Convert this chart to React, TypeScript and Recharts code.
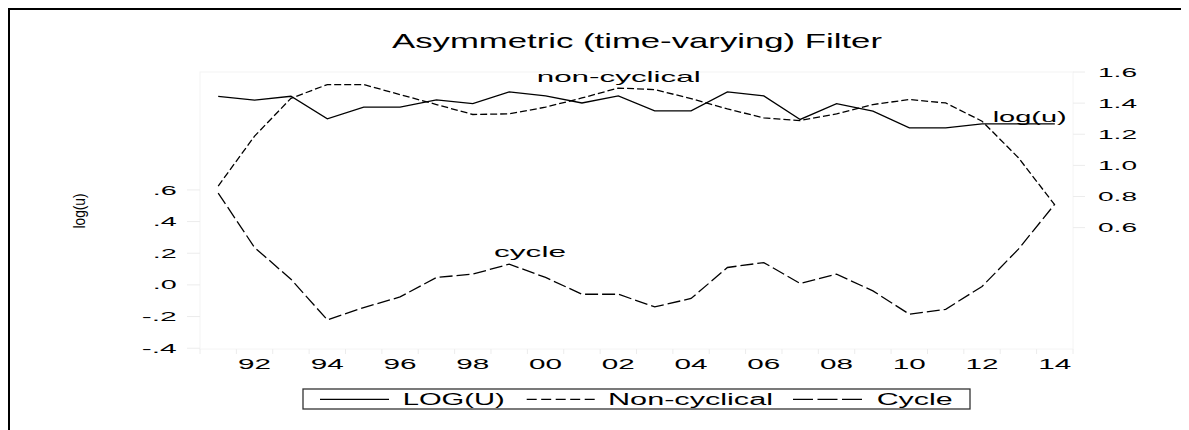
import React from "react";
import { LineChart, Line, XAxis, YAxis, Customized } from "recharts";

// yearly values
const years = [
  "1991", "1992", "1993", "1994", "1995", "1996", "1997", "1998",
  "1999", "2000", "2001", "2002", "2003", "2004", "2005", "2006",
  "2007", "2008", "2009", "2010", "2011", "2012", "2013", "2014",
];
const logU = [
  1.444, 1.419, 1.444, 1.299, 1.374, 1.374, 1.421, 1.397,
  1.472, 1.446, 1.401, 1.446, 1.35, 1.35, 1.472, 1.446,
  1.295, 1.397, 1.348, 1.241, 1.241, 1.267, 1.267, 1.267,
];
const nonCyclical = [
  0.867, 1.188, 1.431, 1.519, 1.519, 1.455, 1.391, 1.327,
  1.331, 1.374, 1.433, 1.497, 1.487, 1.429, 1.363, 1.305,
  1.288, 1.331, 1.391, 1.423, 1.401, 1.284, 1.049, 0.746,
];
const cycle = [
  0.58, 0.236, 0.036, -0.221, -0.143, -0.076, 0.047, 0.068,
  0.131, 0.047, -0.059, -0.059, -0.139, -0.086, 0.11, 0.141,
  0.009, 0.068, -0.038, -0.185, -0.154, -0.01, 0.226, 0.51,
];
const leftTicks = [-0.4, -0.2, 0, 0.2, 0.4, 0.6];
const rightTicks = [0.6, 0.8, 1.0, 1.2, 1.4, 1.6];

const data = years.map((year, i) => ({
  year,
  logU: logU[i],
  nonCyclical: nonCyclical[i],
  cycle: cycle[i],
}));

const W = 1181;
const H = 422;
const PLOT_L = 192;
const PLOT_R = 1065;
const PLOT_T = 64;
const PLOT_B = 341;
const PAD = 18.2;
const FONT = "'Liberation Sans', Arial, sans-serif";
const FAINT = "#ececec";

const fmtLeft = (v: number) => {
  if (Math.abs(v) < 1e-9) return ".0";
  return (v < 0 ? "-" : "") + Math.abs(v).toFixed(1).replace(/^0/, "");
};

function LeftTick(props: any) {
  const { y, payload } = props;
  const label = fmtLeft(payload.value);
  return (
    <g>
      <line x1={179} x2={PLOT_L} y1={y} y2={y} stroke={FAINT} />
      <text
        x={168.7}
        y={y + 4.6}
        textAnchor="end"
        fontSize={13}
        fontFamily={FONT}
        fill="#000"
        textLength={label.startsWith("-") ? 35 : 24}
        lengthAdjust="spacingAndGlyphs"
      >
        {label}
      </text>
    </g>
  );
}

function RightTick(props: any) {
  const { y, payload } = props;
  return (
    <g>
      <line x1={PLOT_R} x2={1077} y1={y} y2={y} stroke={FAINT} />
      <text
        x={1090}
        y={y + 4.6}
        fontSize={13}
        fontFamily={FONT}
        fill="#000"
        textLength={39}
        lengthAdjust="spacingAndGlyphs"
      >
        {Number(payload.value).toFixed(1)}
      </text>
    </g>
  );
}

function YearTick(props: any) {
  const { x, payload, index } = props;
  const yr = Number(payload.value);
  return (
    <g>
      <line x1={x - PAD} x2={x - PAD} y1={PLOT_B} y2={PLOT_B + 5} stroke={FAINT} />
      {index === years.length - 1 && (
        <line x1={x + PAD} x2={x + PAD} y1={PLOT_B} y2={PLOT_B + 5} stroke={FAINT} />
      )}
      {yr % 2 === 0 && (
        <text
          x={x}
          y={361}
          textAnchor="middle"
          fontSize={14}
          fontFamily={FONT}
          fill="#000"
          textLength={33}
          lengthAdjust="spacingAndGlyphs"
        >
          {String(payload.value).slice(2)}
        </text>
      )}
    </g>
  );
}

function Txt({ x, y, w, size, children }: any) {
  return (
    <text
      x={x}
      y={y}
      fontSize={size}
      fontFamily={FONT}
      fill="#000"
      textLength={w}
      lengthAdjust="spacingAndGlyphs"
    >
      {children}
    </text>
  );
}

function Overlay() {
  return (
    <g>
      {/* outer frame (left and top only) */}
      <path d={`M1,${H} V1 H${W}`} fill="none" stroke="#000" strokeWidth={2} />
      {/* very faint plot frame */}
      <rect
        x={PLOT_L}
        y={PLOT_T}
        width={PLOT_R - PLOT_L}
        height={PLOT_B - PLOT_T}
        fill="none"
        stroke="#f4f4f4"
      />
      <Txt x={384} y={40.3} w={490} size={21}>
        Asymmetric (time-varying) Filter
      </Txt>
      <Txt x={528.7} y={74.3} w={164} size={15}>
        non-cyclical
      </Txt>
      <Txt x={486} y={248.7} w={72} size={14}>
        cycle
      </Txt>
      <Txt x={984.7} y={113.8} w={74} size={15}>
        log(u)
      </Txt>
      <text
        transform="translate(77,203) rotate(-90) scale(1,1.2)"
        textAnchor="middle"
        fontSize={14}
        fontFamily={FONT}
        fill="#000"
        textLength={35}
        lengthAdjust="spacingAndGlyphs"
      >
        log(u)
      </text>
      {/* legend */}
      <rect x={295} y={381} width={667} height={20} fill="#fff" stroke="#333" strokeWidth={1.3} />
      <line x1={312} x2={381} y1={391.3} y2={391.3} stroke="#000" strokeWidth={1.2} />
      <Txt x={394.7} y={396.5} w={102} size={16}>
        LOG(U)
      </Txt>
      <line
        x1={518.7}
        x2={587}
        y1={391.3}
        y2={391.3}
        stroke="#000"
        strokeWidth={1.2}
        strokeDasharray="10 4.5"
      />
      <Txt x={600} y={396.5} w={165} size={16}>
        Non-cyclical
      </Txt>
      <line
        x1={785}
        x2={854}
        y1={391.3}
        y2={391.3}
        stroke="#000"
        strokeWidth={1.2}
        strokeDasharray="20 4.5"
      />
      <Txt x={868.7} y={396.5} w={76} size={16}>
        Cycle
      </Txt>
    </g>
  );
}

export default function App() {
  return (
    <div style={{ width: W, height: H, background: "#fff" }}>
      <LineChart
        width={W}
        height={H}
        data={data}
        margin={{ top: PLOT_T, right: 0, bottom: 41, left: 0 }}
      >
        <XAxis
          dataKey="year"
          height={40}
          padding={{ left: PAD, right: PAD }}
          interval={0}
          axisLine={false}
          tickLine={false}
          tick={<YearTick />}
        />
        <YAxis
          yAxisId="left"
          orientation="left"
          width={PLOT_L}
          domain={[-0.405, 1.345]}
          ticks={leftTicks}
          axisLine={false}
          tickLine={false}
          tick={<LeftTick />}
          allowDataOverflow
        />
        <YAxis
          yAxisId="right"
          orientation="right"
          width={W - PLOT_R}
          domain={[-0.18, 1.6]}
          ticks={rightTicks}
          axisLine={false}
          tickLine={false}
          tick={<RightTick />}
          allowDataOverflow
        />
        <Customized component={Overlay} />
        <Line
          yAxisId="right"
          dataKey="logU"
          type="linear"
          stroke="#000"
          strokeWidth={1.3}
          dot={false}
          isAnimationActive={false}
        />
        <Line
          yAxisId="right"
          dataKey="nonCyclical"
          type="linear"
          stroke="#000"
          strokeWidth={1.3}
          strokeDasharray="7 3"
          dot={false}
          isAnimationActive={false}
        />
        <Line
          yAxisId="left"
          dataKey="cycle"
          type="linear"
          stroke="#000"
          strokeWidth={1.3}
          strokeDasharray="13 4"
          dot={false}
          isAnimationActive={false}
        />
      </LineChart>
    </div>
  );
}
